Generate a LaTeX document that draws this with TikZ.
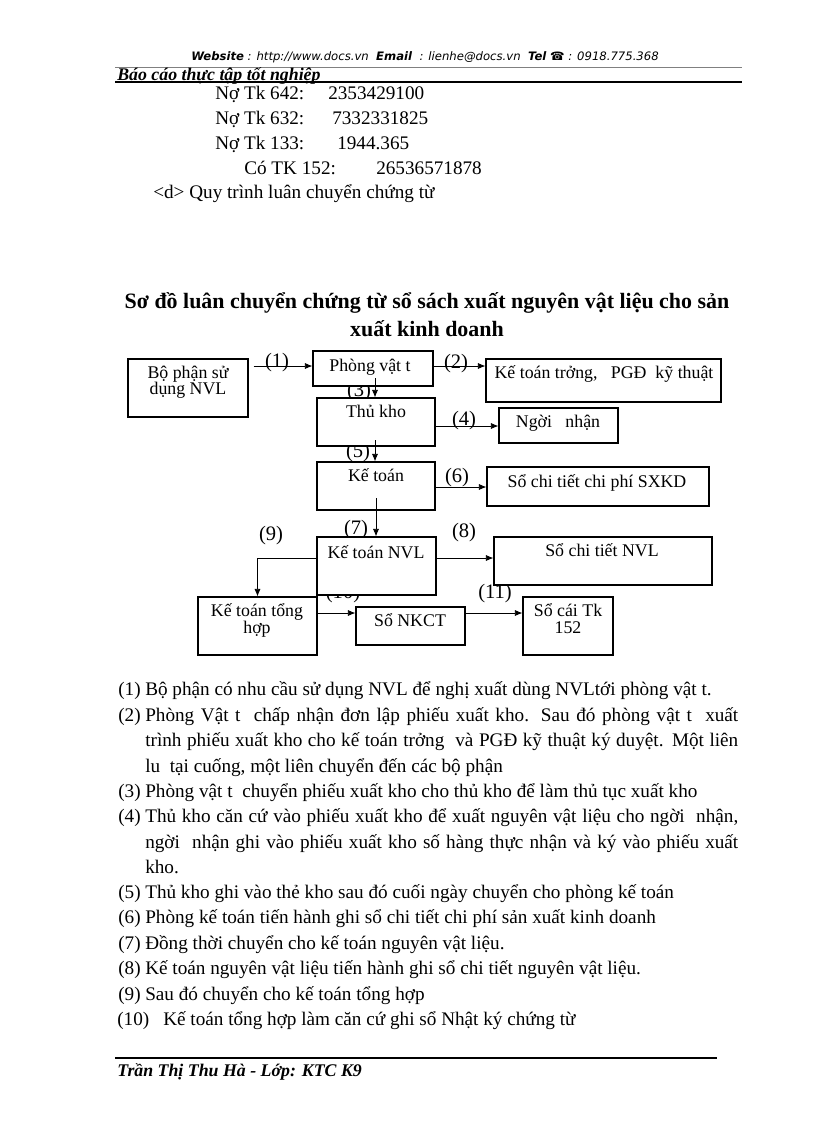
\documentclass[tikz,border=0pt]{standalone}
\usepackage{fontspec}
\setmainfont{Liberation Serif}
\newfontfamily\hdrfont{DejaVu Sans}
\usetikzlibrary{arrows.meta,fit}
\pgfdeclarelayer{bg}
\pgfsetlayers{bg,main}
\begin{document}
\begin{tikzpicture}[x=0.7295pt,y=-0.7295pt,
  bx/.style={draw, fill=white, line width=0.8pt, inner sep=0pt},
  bt/.style={font=\fontsize{13}{15}\selectfont, anchor=base, inner sep=0pt},
  lbl/.style={font=\fontsize{15}{17}\selectfont, inner sep=0pt},
  arr/.style={-{Latex[length=5.5pt,width=4.5pt]}, line width=0.6pt},
  body/.style={font=\fontsize{14}{16}\selectfont, anchor=base west, inner sep=0pt},
  ttl/.style={font=\fontsize{16}{18}\selectfont\bfseries, anchor=base, inner sep=0pt},
  hdr/.style={font=\hdrfont\fontsize{8.5}{10}\selectfont\itshape, anchor=base, inner sep=0pt},
  scr/.style={font=\fontsize{13}{15}\selectfont\bfseries\itshape, anchor=base west, inner sep=0pt}]
\useasboundingbox (0,0) rectangle (816,1123);
% header
\node[hdr] (h1) at (425,60) {\textbf{Website} : http://www.docs.vn \ \textbf{Email} \ : lienhe@docs.vn \ \textbf{Tel} ☎ : 0918.775.368};
\draw[gray, line width=0.5pt] (115,67.5) -- (742,67.5);
\node[scr] (h2) at (117,80) {Báo cáo thực tập tốt nghiệp};
\draw[line width=1pt] (115,82) -- (742,82);
% accounting lines
\node[body] (n1) at (215,99) {Nợ Tk 642:};
\node[body] (v1) at (328,99) {2353429100};
\node[body] (n2) at (215,124) {Nợ Tk 632:};
\node[body] (v2) at (332,124) {7332331825};
\node[body] (n3) at (215,149) {Nợ Tk 133:};
\node[body] (v3) at (337,149) {1944.365};
\node[body] (n4) at (244,174) {Có TK 152:};
\node[body] (v4) at (376,174) {26536571878};
\node[body] (dd) at (153,198) {<d> Quy trình luân chuyển chứng từ};
% title
\node[ttl] (t1) at (427,308) {Sơ đồ luân chuyển chứng từ sổ sách xuất nguyên vật liệu cho sản};
\node[ttl] (t2) at (427,336) {xuất kinh doanh};
% labels (behind boxes)
\begin{pgfonlayer}{bg}
\node[lbl] (l1) at (277,363) {(1)};
\node[lbl] (l2) at (456,364) {(2)};
\node[lbl] (l3) at (359,392) {(3)};
\node[lbl] (l4) at (464,421) {(4)};
\node[lbl] (l5) at (358,453) {(5)};
\node[lbl] (l6) at (457,478) {(6)};
\node[lbl] (l7) at (356,530) {(7)};
\node[lbl] (l8) at (464,533) {(8)};
\node[lbl] (l9) at (271,536) {(9)};
\node[lbl] (l10) at (343,594) {(10)};
\node[lbl] (l11) at (495,594) {(11)};
\end{pgfonlayer}
% boxes
\node[bx, fit={(128,359) (248,417)}] (bp) {};
\node[bx, fit={(313,351) (433,386)}] (pv) {};
\node[bx, fit={(486,359) (721,402)}] (ktt) {};
\node[bx, fit={(317,398) (435,446)}] (tk) {};
\node[bx, fit={(499,408) (618,443)}] (nn) {};
\node[bx, fit={(317,462) (435,510)}] (kt) {};
\node[bx, fit={(487,467) (709,506)}] (spc) {};
\node[bx, fit={(317,537) (436,595)}] (nvl) {};
\node[bx, fit={(494,537) (712,585)}] (sct) {};
\node[bx, fit={(198,597) (317,655)}] (th) {};
\node[bx, fit={(356,607) (465,645)}] (nkct) {};
\node[bx, fit={(523,597) (613,655)}] (sc) {};
% box texts
\node[bt] at (188,378) {Bộ phận sử};
\node[bt] at (188,394) {dụng NVL};
\node[bt] at (370,371) {Phòng vật t};
\node[bt] at (604,378) {Kế toán trởng, \ \ PGĐ \ kỹ thuật};
\node[bt] at (376,417) {Thủ kho};
\node[bt] at (558,427) {Ngời \ \ nhận};
\node[bt] at (376,481) {Kế toán};
\node[bt] at (597,487) {Sổ chi tiết chi phí SXKD};
\node[bt] at (376,558) {Kế toán NVL};
\node[bt] at (602,556) {Sổ chi tiết NVL};
\node[bt] at (257,616) {Kế toán tổng};
\node[bt] at (257,633) {hợp};
\node[bt] at (410,626) {Sổ NKCT};
\node[bt] at (568,616) {Sổ cái Tk};
\node[bt] at (568,633) {152};
% connectors
\draw[arr] (bp.east |- 0,366) ++(5,0) -- (pv.west |- 0,366);
\draw[arr] (pv.east |- 0,366) -- (ktt.west |- 0,366);
\draw[arr] (375,378) -- (tk.north -| 375,0);
\draw[arr] (tk.east |- 0,426) -- (nn.west |- 0,426);
\draw[arr] (375,440) -- (kt.north -| 375,0);
\draw[arr] (kt.east |- 0,487) -- (spc.west |- 0,487);
\draw[arr] (376,498) -- (nvl.north -| 376,0);
\draw[arr] (nvl.east |- 0,558) -- (sct.west |- 0,558);
\draw[arr] (nvl.west |- 0,558) -| (th.north);
\draw[arr] (th.east |- 0,613) -- (nkct.west |- 0,613);
\draw[arr] (nkct.east |- 0,613) -- (sc.west |- 0,613);
% description
\node[body] (d1) at (118,695) {(1)};
\node[body] at (145,695) {Bộ phận có nhu cầu sử dụng NVL để nghị xuất dùng NVLtới phòng vật t.};
\node[body] (d2) at (118,721) {(2)};
\node[body] at (145,721) {\makebox[432.6pt][s]{Phòng Vật t \ chấp nhận đơn lập phiếu xuất kho. Sau đó phòng vật t \ xuất}};
\node[body] at (145,746) {\makebox[432.6pt][s]{trình phiếu xuất kho cho kế toán trởng \ và PGĐ kỹ thuật ký duyệt. Một liên}};
\node[body] at (145,772) {lu \ tại cuống, một liên chuyển đến các bộ phận};
\node[body] (d3) at (118,797) {(3)};
\node[body] at (145,797) {Phòng vật t \ chuyển phiếu xuất kho cho thủ kho để làm thủ tục xuất kho};
\node[body] (d4) at (118,822) {(4)};
\node[body] at (145,822) {\makebox[432.6pt][s]{Thủ kho căn cứ vào phiếu xuất kho để xuất nguyên vật liệu cho ngời \ nhận,}};
\node[body] at (145,848) {\makebox[432.6pt][s]{ngời \ nhận ghi vào phiếu xuất kho số hàng thực nhận và ký vào phiếu xuất}};
\node[body] at (145,873) {kho.};
\node[body] (d5) at (118,898) {(5)};
\node[body] at (145,898) {Thủ kho ghi vào thẻ kho sau đó cuối ngày chuyển cho phòng kế toán};
\node[body] (d6) at (118,923) {(6)};
\node[body] at (145,923) {Phòng kế toán tiến hành ghi sổ chi tiết chi phí sản xuất kinh doanh};
\node[body] (d7) at (118,949) {(7)};
\node[body] at (145,949) {Đồng thời chuyển cho kế toán nguyên vật liệu.};
\node[body] (d8) at (118,974) {(8)};
\node[body] at (145,974) {Kế toán nguyên vật liệu tiến hành ghi sổ chi tiết nguyên vật liệu.};
\node[body] (d9) at (118,1000) {(9)};
\node[body] at (145,1000) {Sau đó chuyển cho kế toán tổng hợp};
\node[body] (d10) at (117,1025) {(10)};
\node[body] at (163,1025) {Kế toán tổng hợp làm căn cứ ghi sổ Nhật ký chứng từ};
% footer
\draw[line width=0.8pt] (115,1058) -- (717,1058);
\node[scr] (ft) at (117,1076) {Trần Thị Thu Hà - Lớp: KTC K9};
\end{tikzpicture}
\end{document}
